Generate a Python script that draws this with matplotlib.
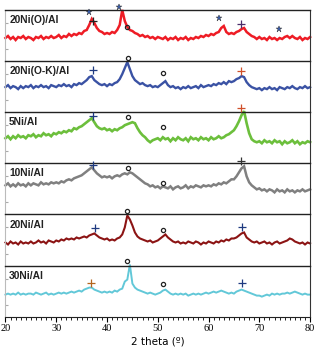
import numpy as np
import matplotlib
matplotlib.use('Agg')
import matplotlib.pyplot as plt
from matplotlib.ticker import MultipleLocator

# 2 theta grid, 0.5 deg steps from 20 to 80
two_theta = np.arange(20, 80.001, 0.5)

# intensities (a.u., height above each panel floor), one row = 5 degrees
i_20ni_o = [23, 25, 22, 24, 21, 24, 23, 25, 22, 24,
            23, 21, 24, 23, 25, 22, 24, 23, 25, 23,
            24, 26, 23, 25, 24, 27, 25, 27, 26, 28,
            27, 30, 31, 36, 42, 38, 33, 30, 29, 27,
            28, 27, 29, 28, 31, 36, 51, 40, 34, 31,
            30, 28, 27, 25, 26, 24, 25, 23, 24, 22,
            24, 23, 22, 24, 21, 23, 22, 24, 21, 23,
            22, 24, 21, 23, 22, 24, 23, 25, 24, 26,
            25, 27, 26, 28, 29, 33, 35, 29, 27, 28,
            27, 29, 30, 32, 33, 29, 27, 25, 24, 22,
            24, 22, 23, 21, 24, 22, 23, 21, 23, 22,
            24, 25, 23, 25, 23, 22, 24, 21, 23, 22,
            24]
i_20ni_ok = [25, 27, 24, 26, 25, 23, 26, 24, 26, 25,
             27, 24, 26, 25, 27, 25, 26, 24, 27, 26,
             25, 27, 26, 28, 26, 27, 25, 28, 27, 29,
             28, 30, 32, 35, 36, 32, 30, 28, 27, 28,
             26, 28, 27, 29, 30, 33, 38, 44, 50, 43,
             36, 32, 30, 28, 29, 27, 26, 27, 25, 26,
             25, 27, 29, 31, 27, 25, 26, 24, 25, 23,
             25, 24, 26, 24, 25, 26, 24, 27, 25, 26,
             27, 26, 28, 27, 29, 28, 30, 28, 31, 30,
             31, 33, 34, 36, 35, 30, 27, 25, 24, 23,
             24, 22, 24, 23, 25, 23, 24, 22, 25, 24,
             23, 25, 24, 26, 24, 23, 25, 24, 26, 24,
             25]
i_5ni = [25, 27, 24, 27, 25, 28, 26, 27, 25, 28,
         27, 29, 26, 28, 27, 30, 28, 29, 27, 30,
         29, 31, 30, 32, 31, 33, 32, 35, 34, 36,
         37, 39, 41, 43, 45, 41, 37, 35, 34, 35,
         33, 34, 32, 34, 33, 35, 36, 38, 39, 40,
         41, 40, 35, 31, 28, 26, 23, 21, 23, 24,
         25, 23, 26, 24, 25, 22, 25, 23, 26, 24,
         23, 25, 22, 26, 24, 25, 23, 26, 24, 25,
         23, 26, 24, 25, 27, 25, 26, 28, 29, 31,
         33, 37, 42, 48, 52, 40, 30, 24, 22, 21,
         22, 20, 23, 21, 22, 20, 23, 21, 22, 19,
         22, 20, 21, 23, 20, 22, 19, 21, 20, 22,
         21]
i_10ni = [29, 31, 28, 30, 28, 31, 29, 30, 28, 31,
          29, 31, 30, 29, 32, 30, 31, 30, 32, 31,
          32, 31, 33, 32, 34, 35, 34, 36, 37, 38,
          39, 41, 43, 45, 47, 44, 41, 39, 37, 38,
          37, 38, 36, 38, 39, 38, 40, 41, 40, 42,
          41, 39, 37, 35, 33, 31, 30, 28, 29, 27,
          28, 26, 28, 27, 26, 28, 25, 27, 28, 26,
          27, 29, 26, 28, 27, 29, 28, 27, 29, 28,
          29, 28, 30, 29, 31, 30, 32, 31, 33, 35,
          35, 38, 42, 46, 48, 38, 32, 29, 27, 25,
          26, 24, 25, 23, 25, 24, 22, 25, 23, 24,
          22, 25, 23, 24, 22, 24, 23, 25, 23, 24,
          25]
i_20ni = [23, 21, 24, 22, 23, 21, 24, 22, 23, 22,
          24, 22, 23, 25, 23, 24, 22, 25, 24, 23,
          25, 24, 26, 25, 27, 26, 27, 26, 28, 27,
          28, 29, 28, 30, 31, 32, 30, 28, 27, 26,
          27, 25, 26, 25, 27, 28, 31, 38, 50, 46,
          40, 33, 29, 27, 26, 25, 24, 25, 23, 24,
          25, 27, 29, 31, 28, 26, 24, 23, 24, 22,
          23, 22, 24, 23, 22, 24, 23, 21, 23, 22,
          24, 23, 22, 24, 23, 25, 24, 26, 25, 27,
          27, 28, 30, 32, 33, 28, 26, 24, 23, 24,
          22, 23, 24, 22, 23, 21, 23, 24, 22, 23,
          24, 25, 27, 26, 24, 23, 22, 23, 21, 23,
          22]
i_30ni = [22, 23, 22, 23, 22, 24, 22, 23, 22, 23,
          23, 22, 24, 23, 22, 23, 24, 22, 23, 22,
          23, 24, 23, 24, 23, 24, 25, 24, 25, 26,
          25, 27, 28, 29, 29, 27, 26, 25, 24, 25,
          24, 25, 24, 26, 25, 27, 28, 35, 37, 52,
          33, 29, 27, 26, 25, 24, 23, 24, 23, 22,
          23, 24, 26, 27, 25, 23, 22, 23, 22, 23,
          22, 23, 21, 22, 23, 22, 23, 22, 23, 24,
          23, 24, 25, 24, 25, 26, 25, 24, 23, 24,
          23, 25, 26, 27, 26, 25, 24, 23, 22, 21,
          21, 20, 21, 22, 21, 23, 22, 23, 22, 23,
          23, 24, 23, 24, 25, 24, 23, 22, 23, 22,
          22]

samples = ['20Ni(O)/Al', '20Ni(O-K)/Al', '5Ni/Al', '10Ni/Al', '20Ni/Al', '30Ni/Al']

# phase marks: (symbol, 2 theta, height)
marks_20ni_o = [('*', 36.4, 49), ('+', 37.2, 40), ('*', 42.3, 54), ('o', 43.9, 34),
                ('*', 62.0, 43), ('+', 66.4, 37), ('*', 73.8, 32)]
marks_20ni_ok = [('+', 37.2, 42), ('o', 44.1, 54), ('o', 51.0, 39), ('+', 66.4, 41)]
marks_5ni = [('+', 37.2, 47), ('o', 44.1, 46), ('o', 51.0, 36), ('+', 66.4, 55)]
marks_10ni = [('+', 37.2, 49), ('o', 44.1, 46), ('o', 51.0, 31), ('+', 66.4, 53)]
marks_20ni = [('+', 37.6, 37), ('o', 43.9, 54), ('o', 51.1, 35), ('+', 66.5, 38)]
marks_30ni = [('+', 36.8, 34), ('o', 43.9, 56), ('o', 51.0, 33), ('+', 66.5, 34)]

data = [i_20ni_o, i_20ni_ok, i_5ni, i_10ni, i_20ni, i_30ni]
marks = [marks_20ni_o, marks_20ni_ok, marks_5ni, marks_10ni, marks_20ni, marks_30ni]

line_colors = ['#ee1c25', '#3a52a4', '#6cbf3c', '#808080', '#8c1414', '#62c8d8']
line_widths = [1.8, 1.7, 1.9, 1.8, 1.5, 1.4]
plus_colors = [['#222222', '#4a2d6a'], ['#1f3a80', '#d0502a'], ['#1f3a80', '#d0502a'],
               ['#1f3a80', '#333333'], ['#1f3a80', '#1f3a80'], ['#b5651d', '#1f3a80']]

fig, axes = plt.subplots(6, 1, sharex=True, figsize=(3.22, 3.55), dpi=100)
fig.subplots_adjust(left=0.017, right=0.963, top=0.972, bottom=0.108, hspace=0)

for k, ax in enumerate(axes):
    ax.set_facecolor('none')
    ax.plot(two_theta, data[k], color=line_colors[k], lw=line_widths[k], clip_on=False,
            solid_joinstyle='miter')
    ax.set_xlim(20, 80)
    ax.set_ylim(0, 51)
    ax.text(0.012, 0.9, samples[k], transform=ax.transAxes, fontsize=7.4,
            fontweight='bold', family='Liberation Sans', va='top', ha='left',
            color='#222222')
    n_plus = 0
    for sym, x, y in marks[k]:
        if sym == '+':
            ax.plot(x, y, marker='+', ms=6, mew=0.9, color=plus_colors[k][n_plus],
                    clip_on=False, zorder=5)
            n_plus += 1
        elif sym == 'o':
            ax.plot(x, y, marker='o', ms=3, mew=0.9, mfc='none', mec='#222222',
                    clip_on=False, zorder=5)
        else:
            ax.plot(x, y, marker='*', ms=4.5, mew=0.3, color='#3a5fb0', mec='#222222',
                    clip_on=False, zorder=5)
    ax.spines['left'].set_color('#bbbbbb')
    ax.spines['right'].set_color('#333333')
    ax.spines['top'].set_color('#222222')
    ax.spines['top'].set_linewidth(1.0)
    ax.spines['bottom'].set_visible(k == len(axes) - 1)
    ax.set_yticks([12, 38])
    ax.tick_params(axis='y', direction='in', length=2, color='#aaaaaa', labelleft=False)
    ax.tick_params(axis='x', bottom=(k == len(axes) - 1), which='both')

ax = axes[-1]
ax.spines['bottom'].set_color('#222222')
ax.xaxis.set_major_locator(MultipleLocator(10))
ax.xaxis.set_minor_locator(MultipleLocator(1))
ax.tick_params(axis='x', which='major', direction='out', length=3.5, width=0.8, pad=2)
ax.tick_params(axis='x', which='minor', direction='out', length=2.5, width=0.6)
for lab in ax.get_xticklabels():
    lab.set_family('Liberation Serif')
    lab.set_fontsize(7.5)
ax.set_xlabel('2 theta (\u00ba)', fontsize=7.5, family='DejaVu Sans', labelpad=2)

fig.savefig('out.png', dpi=100)
